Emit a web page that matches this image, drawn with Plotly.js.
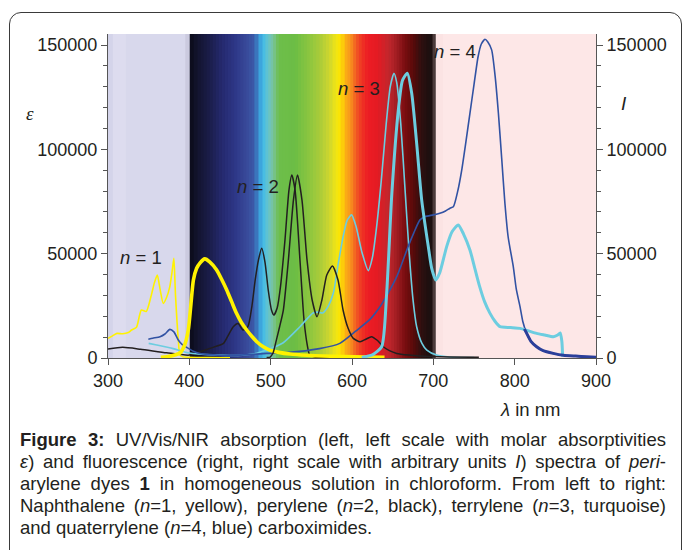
<!DOCTYPE html>
<html>
<head>
<meta charset="utf-8">
<script src="https://cdn.plot.ly/plotly-3.0.1.min.js"></script>
<style>
  html, body { margin: 0; padding: 0; background: #fff; }
  #wrap { position: relative; width: 683px; height: 550px; overflow: hidden; background: #fff; }
  #chart { position: absolute; left: 0; top: 0; width: 683px; height: 550px; }
  #frame { position: absolute; left: 9px; top: 12px; width: 671px; height: 600px;
           border: 1.5px solid #3a3a3a; border-radius: 12px; pointer-events: none; }
  #caption { position: absolute; left: 20px; top: 429px; width: 646px;
             font-family: "Liberation Sans", Arial, sans-serif; font-size: 18.5px;
             line-height: 22px; color: #231f20; }
  #caption .j { text-align: justify; text-align-last: justify; white-space: nowrap; }
  #caption .l { text-align: left; white-space: nowrap; }
</style>
</head>
<body>
<div id="wrap">
  <div id="chart"></div>
  <div id="frame"></div>
  <div id="caption">
    <div class="j"><b>Figure 3:</b> UV/Vis/NIR absorption (left, left scale with molar absorptivities</div>
    <div class="j"><i>ε</i>) and fluorescence (right, right scale with arbitrary units <i>I</i>) spectra of <i>peri</i>-</div>
    <div class="j">arylene dyes <b>1</b> in homogeneous solution in chloroform. From left to right:</div>
    <div class="j">Naphthalene (<i>n</i>=1, yellow), perylene (<i>n</i>=2, black), terrylene (<i>n</i>=3, turquoise)</div>
    <div class="l">and quaterrylene (<i>n</i>=4, blue) carboximides.</div>
  </div>
</div>
<script>
// ---- data (wavelength in nm, values) ----
const n1AbsX = [300, 305, 311, 318, 325, 329, 335, 341, 347, 353, 357, 360.6, 364, 368, 372, 376, 379, 381, 383, 386.5, 388.5, 392, 400, 420, 450];
const n1AbsY = [9400, 10500, 11800, 11600, 12200, 13400, 14700, 23000, 22300, 29700, 36000, 39800, 33000, 26200, 29000, 34200, 42000, 47800, 30000, 8600, 1400, 600, 300, 200, 100];

const n1FlX = [365, 372, 380, 388.5, 394, 398.7, 402, 405, 409, 413, 419, 425, 433.6, 440, 446, 452, 458, 464, 470.5, 477, 483, 490, 499, 510, 524, 545, 564, 590, 615, 640];
const n1FlY = [300, 600, 1200, 2400, 6000, 13400, 26000, 37400, 43000, 45500, 47500, 46100, 42200, 37500, 32600, 27000, 21400, 17000, 13400, 10300, 7800, 5600, 3800, 2700, 1900, 1300, 960, 700, 500, 300];

const n2AbsX = [300, 318, 340, 372, 400, 425, 442, 448, 454, 460, 466, 472, 477, 481, 485, 489, 493, 497, 501, 504, 508, 512, 517.6, 522.5, 526, 530, 536, 541, 545, 548, 555, 570, 600];
const n2AbsY = [4300, 5100, 4200, 2500, 1400, 4600, 7000, 11000, 15000, 16500, 13400, 15000, 25000, 37400, 47000, 52600, 46000, 32600, 23000, 20600, 24000, 34000, 56600, 80500, 87700, 80500, 47000, 18200, 6200, 1400, 400, 200, 100];

const n2FlX = [495, 499, 503, 507, 511, 515.6, 521.8, 528, 533, 538.5, 544.7, 551, 557, 563, 569, 576, 582.8, 589, 595, 601.6, 610, 617, 624, 631, 638.5, 646, 655, 670, 683.6, 720, 756];
const n2FlY = [200, 300, 2500, 8600, 15000, 23000, 47000, 75700, 87700, 75700, 47000, 27800, 19800, 27800, 39800, 44100, 37400, 23000, 14500, 9400, 7800, 9000, 10200, 8500, 5400, 3500, 2200, 1400, 960, 500, 300];

const n3AbsX = [350, 360, 380, 400, 430, 460, 480, 495, 515, 536, 552, 558, 564, 571, 577, 583, 589, 594, 599.5, 605, 612, 620, 625, 630, 636, 642, 647, 651.6, 655, 660, 665, 670, 675, 679.5, 686, 692, 704, 720, 750];
const n3AbsY = [7000, 6200, 4500, 2400, 1500, 1200, 2000, 3800, 7200, 15000, 21600, 22000, 21600, 25000, 31000, 45000, 58000, 66000, 68600, 63000, 51000, 41900, 48000, 62000, 85000, 112000, 130000, 136500, 132000, 112000, 82000, 52000, 28000, 15000, 7000, 3800, 1400, 500, 200];

const n3FlX = [612, 625, 636.5, 642.6, 649, 657, 662, 668, 673.4, 679.5, 685.7, 693.8, 698, 703, 708, 716.4, 723, 730.7, 737, 745, 751, 757, 763, 769.7, 776, 782, 795, 806.6, 817, 827, 837, 847.5, 853, 856, 858, 859];
const n3FlY = [300, 1500, 5400, 31000, 79000, 119000, 133000, 136500, 126900, 102900, 75700, 53400, 43000, 37400, 41000, 53400, 60500, 63800, 59500, 51800, 43000, 34200, 27000, 21400, 17500, 15000, 14600, 14200, 13000, 11800, 11000, 10200, 11000, 12000, 8000, 600];

const n4AbsX = [349.6, 355, 364, 370, 376, 381, 386.4, 391, 396.7, 405, 413, 430, 460, 495, 520, 560, 585, 605, 622, 634.4, 645, 655, 662, 669, 676, 683.6, 690, 700, 708, 715, 720.5, 724.6, 730, 734.9, 740, 745, 750, 755, 759, 763.5, 767, 771.7, 776, 780, 784, 788, 792, 798.3, 802, 806.6, 810, 814.8, 820, 827, 835, 847.5, 860, 875, 888.6, 900];
const n4AbsY = [9000, 9500, 10200, 11500, 13700, 12500, 8600, 6500, 5100, 3200, 2200, 1500, 1300, 2200, 2600, 4500, 7000, 13000, 18500, 24600, 31500, 39000, 46000, 53400, 60000, 66200, 67800, 68600, 69400, 70500, 71800, 72500, 80000, 90100, 103500, 117300, 131000, 144400, 150500, 152800, 151500, 147700, 135000, 117300, 96000, 74200, 58000, 43800, 33000, 24600, 17500, 11800, 8000, 5400, 3500, 2200, 1300, 900, 600, 300];

const n4FlX = [812, 814.8, 820, 827, 835, 847.5, 860, 875, 888.6, 900];
const n4FlY = [14000, 11800, 8000, 5400, 3500, 2200, 1300, 900, 600, 300];

const xTicks = [300, 400, 500, 600, 700, 800, 900];
const yTicks = [0, 50000, 100000, 150000];

// ---- background colour regions (wavelength, colour) ----
const spectrumStops = [
  [400.5, '#0b0b18'], [410, '#13142e'], [425, '#1b1d4a'], [440, '#252a6e'], [455, '#2d3585'],
  [470, '#38499a'], [480, '#3c5aa8'], [485, '#3a8fd0'], [490, '#3fbbea'], [497, '#67c4cc'],
  [503, '#79c39a'], [510, '#6dbe4b'], [530, '#6cbd45'], [548, '#8dc63f'], [560, '#a8cb3a'],
  [572, '#cdd62f'], [580, '#f0e516'], [586, '#fde400'], [591, '#fbb313'], [598, '#f7941d'],
  [605, '#f15a24'], [612, '#ee3424'], [620, '#ed1c24'], [632, '#e31b23'], [645, '#c1272d'],
  [655, '#a01d22'], [665, '#7a0d10'], [675, '#5a0a0a'], [685, '#2f1010'], [695, '#1c0f0f'], [699, '#1e1212']
];
const uvBands = [[300, 306, '#d4d4ea'], [306, 322, '#dddcef'], [322, 395, '#d8d8ec'], [395, 400.5, '#cbcadf']];
const nirBands = [[699, 703, '#4b3b3b'], [703, 712, '#fbe3e3'], [712, 900, '#fde7e7']];

function hexToRgb(h) { return [parseInt(h.slice(1,3),16), parseInt(h.slice(3,5),16), parseInt(h.slice(5,7),16)]; }
function mix(a, b, t) { const A = hexToRgb(a), B = hexToRgb(b);
  return 'rgb(' + A.map((v,i) => Math.round(v + (B[i]-v)*t)).join(',') + ')'; }

const shapes = [];
function band(x0, x1, c) {
  shapes.push({type:'rect', xref:'x', yref:'paper', x0:x0, x1:x1, y0:0, y1:1, fillcolor:c, line:{width:0, color:c}, layer:'below'});
}
uvBands.forEach(b => band(b[0], b[1] + 1.5, b[2]));
for (let i = 0; i < spectrumStops.length - 1; i++) {
  const [a, ca] = spectrumStops[i], [b, cb] = spectrumStops[i+1];
  const n = Math.max(1, Math.round((b - a) / 4));
  for (let k = 0; k < n; k++) {
    const s0 = a + (b - a) * k / n, s1 = a + (b - a) * (k + 1) / n;
    band(s0, s1 + 2, mix(ca, cb, (k + 0.5) / n));
  }
}
nirBands.forEach(b => band(b[0], b[1] + (b[1] < 900 ? 1.5 : 0), b[2]));

const cYellow = '#fff200', cBlack = '#231f20', cTurq = '#6ccde0', cBlue = '#3152a3';
function tr(x, y, color, width, axis) {
  return {x:x, y:y, type:'scatter', mode:'lines', yaxis:axis, hoverinfo:'skip',
          line:{color:color, width:width, shape:'spline', smoothing:0.6}};
}
const data = [
  tr(n1AbsX, n1AbsY, cYellow, 1.6, 'y'),
  tr(n2AbsX, n2AbsY, cBlack, 1.5, 'y'),
  tr(n3AbsX, n3AbsY, cTurq, 1.6, 'y'),
  tr(n4AbsX, n4AbsY, cBlue, 1.6, 'y'),
  tr(n1FlX, n1FlY, cYellow, 3.6, 'y2'),
  tr(n2FlX, n2FlY, cBlack, 1.5, 'y2'),
  tr(n3FlX, n3FlY, cTurq, 3.0, 'y2'),
  tr(n4FlX, n4FlY, '#2b3f9a', 3.0, 'y2')
];

const tickFont = {family:'Liberation Sans, Arial, sans-serif', size:18, color:'#231f20'};
const yCommon = {range:[0, 155300], tickvals:yTicks, ticktext:yTicks.map(String), ticks:'outside', ticklen:6,
  tickcolor:'#555', tickwidth:1, showline:true, linecolor:'#555', linewidth:1, showgrid:false, zeroline:false,
  tickfont:tickFont, fixedrange:true,
  minor:{dtick:10000, tick0:0, ticks:'outside', ticklen:4, tickcolor:'#555', tickwidth:1, showgrid:false}};

const annFont = {family:'Liberation Sans, Arial', size:18.5, color:'#231f20'};
const layout = {
  width:683, height:550,
  margin:{l:108, r:87, t:34, b:192, pad:0},
  paper_bgcolor:'rgba(0,0,0,0)', plot_bgcolor:'#ffffff',
  showlegend:false,
  xaxis:{range:[300, 900], tickvals:xTicks, ticks:'outside', ticklen:6, tickcolor:'#555', tickwidth:1,
         showline:true, linecolor:'#555', linewidth:1, showgrid:false, zeroline:false, tickfont:tickFont, fixedrange:true},
  yaxis:Object.assign({side:'left'}, yCommon),
  yaxis2:Object.assign({side:'right', overlaying:'y'}, yCommon),
  shapes:shapes,
  annotations:[
    {text:'<i>n</i> = 1', x:341, y:48400, xref:'x', yref:'y', showarrow:false, xanchor:'center', yanchor:'middle', font:annFont},
    {text:'<i>n</i> = 2', x:484.4, y:82000, xref:'x', yref:'y', showarrow:false, xanchor:'center', yanchor:'middle', font:annFont},
    {text:'<i>n</i> = 3', x:608.6, y:129400, xref:'x', yref:'y', showarrow:false, xanchor:'center', yanchor:'middle', font:annFont},
    {text:'<i>n</i> = 4', x:726.6, y:146700, xref:'x', yref:'y', showarrow:false, xanchor:'center', yanchor:'middle', font:annFont},
    {text:'<i>ε</i>', x:-0.16, y:0.756, xref:'paper', yref:'paper', showarrow:false, xanchor:'center', yanchor:'middle', font:{family:'Liberation Serif, serif', size:19, color:'#231f20'}},
    {text:'<i>I</i>', x:1.057, y:0.784, xref:'paper', yref:'paper', showarrow:false, xanchor:'center', yanchor:'middle', font:{family:'Liberation Sans, Arial', size:19, color:'#231f20'}},
    {text:'<i>λ</i> in nm', x:0.865, y:-0.16, xref:'paper', yref:'paper', showarrow:false, xanchor:'center', yanchor:'middle', font:annFont}
  ]
};

Plotly.newPlot('chart', data, layout, {staticPlot:true, displayModeBar:false});
</script>
</body>
</html>
